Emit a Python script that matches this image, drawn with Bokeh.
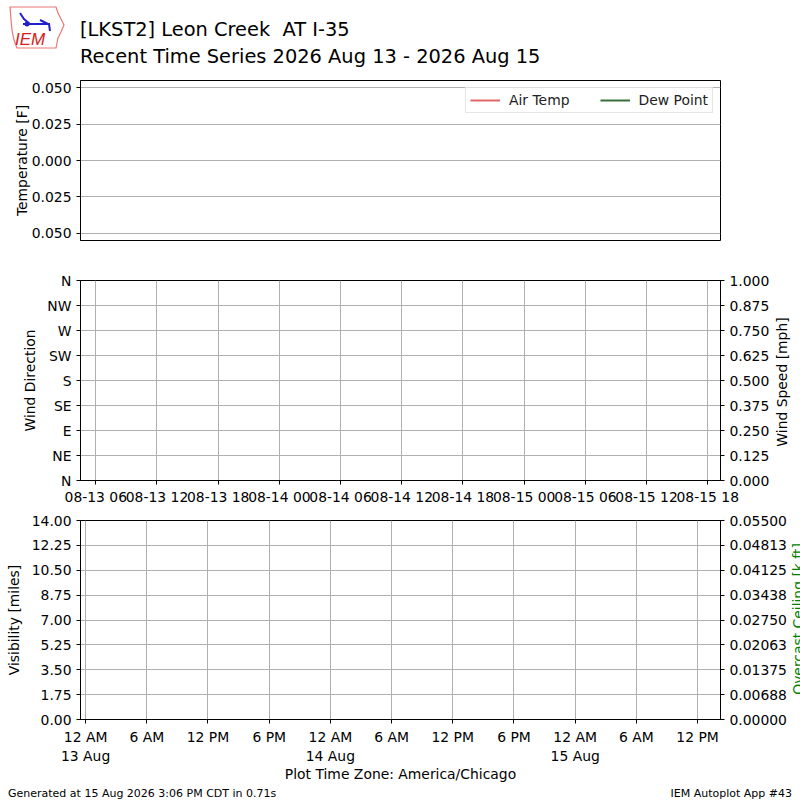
from bokeh.plotting import figure
from bokeh.layouts import column
from bokeh.models import (Range1d, LinearAxis, FixedTicker, Legend, Div,
                          PrintfTickFormatter)
from bokeh.embed import file_html
from bokeh.resources import INLINE

# station / period, hours counted from 2026-08-13 00:00 America/Chicago
title_line1 = "[LKST2] Leon Creek&nbsp; AT I-35"
title_line2 = "Recent Time Series 2026 Aug 13 - 2026 Aug 15"
footer_left = "Generated at 15 Aug 2026 3:06 PM CDT in 0.71s"
footer_right = "IEM Autoplot App #43"
x_start, x_end = -0.5, 62.25

# observations (none available for this period)
valid_hours = []
tmpf = []
dwpf = []
drct = []
sknt = []
vsby = []
ceiling = []

# tick positions and labels
temp_ticks = [-0.05, -0.025, 0.0, 0.025, 0.05]
temp_labels = ["0.050", "0.025", "0.000", "0.025", "0.050"]
dir_ticks = [0, 45, 90, 135, 180, 225, 270, 315, 360]
dir_labels = ["N", "NE", "E", "SE", "S", "SW", "W", "NW", "N"]
speed_ticks = [0, 0.125, 0.25, 0.375, 0.5, 0.625, 0.75, 0.875, 1.0]
utc_ticks = [1, 7, 13, 19, 25, 31, 37, 43, 49, 55, 61]
utc_labels = ["08-13 06", "08-13 12", "08-13 18", "08-14 00", "08-14 06",
              "08-14 12", "08-14 18", "08-15 00", "08-15 06", "08-15 12",
              "08-15 18"]
local_ticks = [0, 6, 12, 18, 24, 30, 36, 42, 48, 54, 60]
local_labels = ["12 AM\n13 Aug", "6 AM", "12 PM", "6 PM", "12 AM\n14 Aug",
                "6 AM", "12 PM", "6 PM", "12 AM\n15 Aug", "6 AM", "12 PM"]
vsby_ticks = [0, 1.75, 3.5, 5.25, 7.0, 8.75, 10.5, 12.25, 14.0]
ceil_ticks = [0, 0.006875, 0.01375, 0.020625, 0.0275, 0.034375, 0.04125,
              0.048125, 0.055]
ceil_labels = ["0.00000", "0.00688", "0.01375", "0.02063", "0.02750",
               "0.03438", "0.04125", "0.04813", "0.05500"]

FONT = "DejaVu Sans"
TICK_PX = "13.9px"
GRID = "#b0b0b0"
NAN = float("nan")
W = 792


def style_axis(ax):
    ax.axis_line_color = "black"
    ax.major_tick_line_color = "black"
    ax.major_tick_out = 4
    ax.major_tick_in = 0
    ax.minor_tick_line_color = None
    ax.major_label_text_font = FONT
    ax.major_label_text_font_size = TICK_PX
    ax.major_label_text_color = "black"
    ax.axis_label_text_font = FONT
    ax.axis_label_text_font_size = TICK_PX
    ax.axis_label_text_font_style = "normal"
    ax.axis_label_text_color = "black"


def panel(height, top, bottom, y_range):
    p = figure(width=W, height=height, output_backend="svg", toolbar_location=None,
               x_range=Range1d(x_start, x_end), y_range=y_range,
               min_border_left=80, min_border_right=72,
               min_border_top=top, min_border_bottom=bottom)
    p.outline_line_color = "black"
    p.outline_line_width = 1
    p.background_fill_color = "white"
    p.border_fill_color = "white"
    p.xgrid.grid_line_color = GRID
    p.ygrid.grid_line_color = GRID
    for ax in p.xaxis + p.yaxis:
        style_axis(ax)
    return p


def vertical_text(text, left, top, color="black", clip=None):
    # text read from bottom to top, centred vertically on `top`
    span = ('<span style="position:absolute;left:%dpx;top:%dpx;transform-origin:0 0;'
            'transform:rotate(-90deg) translate(-50%%,0);font-size:13.9px;'
            'line-height:16px;color:%s">%s</span>')
    if clip is None:
        return span % (left, top, color, text)
    cl, ct, cw, ch = clip
    return ('<div style="position:absolute;left:%dpx;top:%dpx;width:%dpx;height:%dpx;'
            'overflow:hidden">' % (cl, ct, cw, ch)
            + span % (left - cl, top - ct, color, text) + '</div>')


# --- header: logo and title
logo = """<svg width="72" height="60" viewBox="0 0 72 60" style="position:absolute;left:0;top:0">
<path d="M10,7 L56,7 L58,13 L61,19 L64,25 L61,32 L58,38 L56,48 L17,48 L14,40 L12,30 L11,20 Z"
 fill="none" stroke="#e77" stroke-width="1.2"/>
<path d="M23,24 L50,24 M20,13 L24,19 L30,24 M40,20 L48,24 M49,24 L50,31" stroke="#2020cc" stroke-width="2" fill="none"/>
<circle cx="27" cy="24" r="2.5" fill="#2020cc"/>
<text x="15" y="45" font-family="Liberation Serif" font-style="italic" font-size="17" fill="#d42020">IEM</text>
</svg>"""
header = Div(width=W, height=72, margin=0, text=(
    '<div style="position:relative;width:792px;height:72px">' + logo +
    '<div style="position:absolute;left:80px;top:17px;font-family:\'DejaVu Sans\';'
    'font-size:19.4px;line-height:26.5px;color:black;white-space:nowrap">'
    + title_line1 + '<br>' + title_line2 + '</div></div>'))

# --- temperature panel
p1 = panel(188, 8, 20, Range1d(-0.055, 0.055))
p1.xaxis.visible = False
p1.xgrid.grid_line_color = None
p1.yaxis.ticker = FixedTicker(ticks=temp_ticks)
p1.yaxis.major_label_overrides = dict(zip(temp_ticks, temp_labels))
p1.yaxis.axis_label = "Temperature [F]"
p1.yaxis.axis_label_standoff = -1
p1.line(valid_hours, tmpf, color="#e06666", line_width=2)
p1.line(valid_hours, dwpf, color="#376e3a", line_width=2)
# legend handles (no data in them)
h_t = p1.line([NAN], [NAN], color="#e06666", line_width=2)
h_d = p1.line([NAN], [NAN], color="#376e3a", line_width=2)
legend = Legend(items=[("Air Temp", [h_t]), ("Dew Point", [h_d])],
                location="top_right", orientation="horizontal")
legend.margin = 7
legend.padding = 4
legend.spacing = 30
legend.glyph_width = 30
legend.glyph_height = 14
legend.label_height = 14
legend.label_standoff = 9
legend.label_text_font = FONT
legend.label_text_font_size = TICK_PX
legend.label_text_color = "#222222"
legend.border_line_color = "#cccccc"
legend.background_fill_alpha = 0.8
p1.add_layout(legend)

# --- wind panel
p2 = panel(250, 20, 30, Range1d(0, 360))
p2.extra_y_ranges = {"speed": Range1d(0, 1)}
p2.scatter(valid_hours, drct, color="#1f77b4", size=4)
p2.line(valid_hours, sknt, color="#ff7f0e", y_range_name="speed")
p2.yaxis.ticker = FixedTicker(ticks=dir_ticks)
p2.yaxis.major_label_overrides = dict(zip(dir_ticks, dir_labels))
p2.yaxis.axis_label = "Wind Direction"
p2.yaxis.axis_label_standoff = 6
p2.xaxis.ticker = FixedTicker(ticks=utc_ticks)
p2.xaxis.major_label_overrides = dict(zip(utc_ticks, utc_labels))
p2.xaxis.major_label_standoff = 4
ax2r = LinearAxis(y_range_name="speed", ticker=FixedTicker(ticks=speed_ticks),
                  formatter=PrintfTickFormatter(format="%.3f"))
style_axis(ax2r)
p2.add_layout(ax2r, "right")

# --- visibility / ceiling panel
p3 = panel(274, 10, 64, Range1d(0, 14))
p3.extra_y_ranges = {"ceiling": Range1d(0, 0.055)}
p3.line(valid_hours, vsby, color="#1f77b4")
p3.line(valid_hours, ceiling, color="green", y_range_name="ceiling")
p3.yaxis.ticker = FixedTicker(ticks=vsby_ticks)
p3.yaxis.formatter = PrintfTickFormatter(format="%.2f")
p3.yaxis.axis_label = "Visibility [miles]"
p3.yaxis.axis_label_standoff = 7
p3.xaxis.ticker = FixedTicker(ticks=local_ticks)
p3.xaxis.major_label_overrides = dict(zip(local_ticks, local_labels))
p3.xaxis.axis_label = "Plot Time Zone: America/Chicago"
p3.xaxis.axis_label_standoff = -1
ax3r = LinearAxis(y_range_name="ceiling", ticker=FixedTicker(ticks=ceil_ticks))
ax3r.major_label_overrides = dict(zip(ceil_ticks, ceil_labels))
style_axis(ax3r)
p3.add_layout(ax3r, "right")

# --- footer, plus the two right-hand axis titles (laid over the plots;
# the ceiling title runs off the right edge, as in the original)
FOOT_TOP = 784
footer = Div(width=W, height=8, margin=0, text=(
    '<div style="position:relative;width:792px;height:8px;font-family:\'DejaVu Sans\';'
    'color:black;white-space:nowrap">'
    '<span style="position:absolute;left:8px;top:-1px;font-size:11px;line-height:13px">'
    + footer_left + '</span>'
    '<span style="position:absolute;right:0;top:-1px;font-size:11px;line-height:13px">'
    + footer_right + '</span>'
    + vertical_text("Wind Speed [mph]", 774, 378 - FOOT_TOP)
    + vertical_text("Overcast Ceiling [k ft]", 790, 615 - FOOT_TOP, color="green",
                    clip=(790, 530 - FOOT_TOP, 10, 180))
    + '</div>'))

layout = column(header, p1, p2, p3, footer, spacing=0)
open("out.html", "w").write(file_html(layout, INLINE))
